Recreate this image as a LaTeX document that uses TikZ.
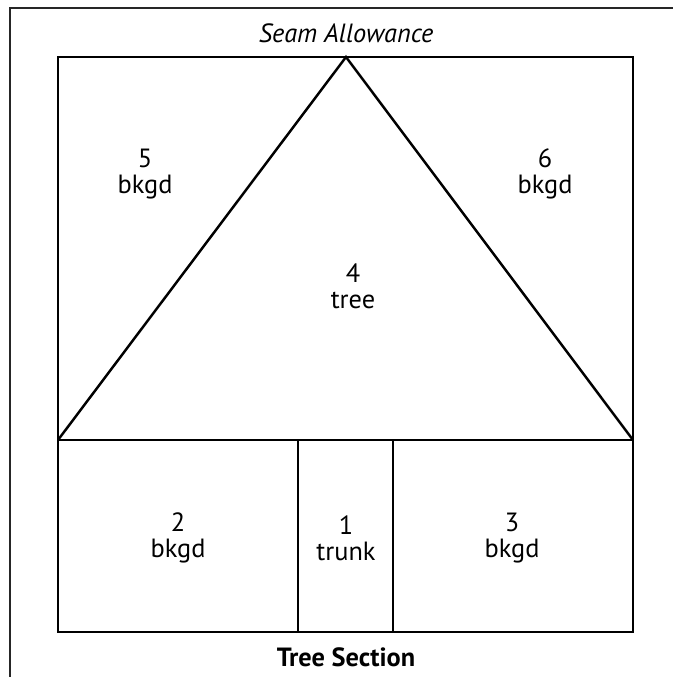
\documentclass[tikz,border=0pt]{standalone}
\usepackage{fontspec}
\setmainfont{PT Sans}
\usetikzlibrary{calc}
\tikzset{patch/.style={line width=1.4pt,line join=miter},
  lbl/.style={align=center,font=\fontsize{15}{15}\selectfont,inner sep=0pt},
  frame/.style={line width=1.6pt,draw=black!85}}

\begin{document}
\begin{tikzpicture}[x=0.02cm,y=-0.02cm]
\useasboundingbox (0,0) rectangle (673,677);
% outer seam allowance frame
\draw[frame] (10,677) -- (10,8) -- (673,8);
% block corners
\coordinate (tl) at (58,57); \coordinate (tr) at (633,57);
\coordinate (bl) at (58,632); \coordinate (br) at (633,632);
\coordinate (ml) at (58,440); \coordinate (mr) at (633,440);
\coordinate (apex) at (346,57);
\coordinate (t1) at (298,440); \coordinate (t2) at (393,440);
\coordinate (b1) at (298,632); \coordinate (b2) at (393,632);
\draw[patch] (tl) rectangle (br);
\draw[patch] (ml) -- (mr);
\draw[patch] (ml) -- (apex) -- (mr);
\draw[patch] (t1) -- (b1); \draw[patch] (t2) -- (b2);
% labels
\node[lbl,font=\fontsize{15}{15}\selectfont\itshape] (seam) at (346,33) {Seam Allowance};
\node[lbl] (p5) at (145,174) {5\\bkgd};
\node[lbl] (p6) at (545,174) {6\\bkgd};
\node[lbl] (p4) at (353,286) {4\\tree};
\node[lbl] (p2) at (178,538) {2\\bkgd};
\node[lbl] (p1) at (346,538) {1\\trunk};
\node[lbl] (p3) at (512,538) {3\\bkgd};
\node[lbl,font=\fontsize{15}{15}\selectfont\bfseries] (title) at (346,657) {Tree Section};
\end{tikzpicture}
\end{document}
